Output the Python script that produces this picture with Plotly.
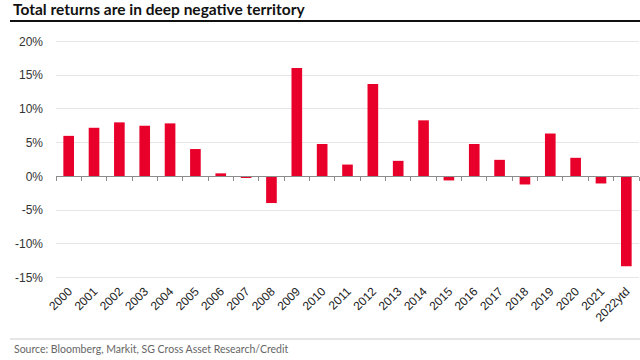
import plotly.graph_objects as go

years = ["2000", "2001", "2002", "2003", "2004", "2005", "2006", "2007", "2008", "2009",
         "2010", "2011", "2012", "2013", "2014", "2015", "2016", "2017", "2018", "2019",
         "2020", "2021", "2022ytd"]
returns_pct = [6.0, 7.2, 8.0, 7.5, 7.85, 4.05, 0.45, -0.2, -3.95, 16.05,
               4.8, 1.75, 13.7, 2.3, 8.3, -0.6, 4.8, 2.45, -1.2, 6.35,
               2.75, -1.05, -13.3]
y_ticks = [-15, -10, -5, 0, 5, 10, 15, 20]
y_ticklabels = [f"{v}%" for v in y_ticks]

title_text = "Total returns are in deep negative territory"
source_text = "Source: Bloomberg, Markit, SG Cross Asset Research/Credit"

RED = "#E8002B"
Y_RANGE = [-15.2, 20.2]
zero_pos = (0 - Y_RANGE[0]) / (Y_RANGE[1] - Y_RANGE[0])
n = len(years)

L, R, T, B = 56, 1, 40, 81
PW, PH = 640 - L - R, 360 - T - B

fig = go.Figure()
fig.add_trace(go.Bar(x=years, y=returns_pct, marker=dict(color=RED, line=dict(width=0)),
                     showlegend=False, hoverinfo="x+y"))
# invisible helper trace so the zero-line axis (with boundary ticks) is drawn
fig.add_trace(go.Scatter(x=[-0.5, n - 0.5], y=[0, 0], xaxis="x2", yaxis="y",
                         mode="lines", line=dict(width=0), showlegend=False,
                         hoverinfo="skip"))

fig.update_layout(
    width=640, height=360,
    margin=dict(l=L, r=R, t=T, b=B, autoexpand=False),
    paper_bgcolor="white", plot_bgcolor="white",
    bargap=0.58,
    font=dict(family="Liberation Sans, Arial, sans-serif", size=12, color="#333333"),
    xaxis=dict(type="category", categoryorder="array", categoryarray=years,
               range=[-0.5, n - 0.5], automargin=False,
               showgrid=False, showline=False, zeroline=False, ticks="",
               tickangle=-45, tickfont=dict(size=12, color="#222222"),
               ticklabelstandoff=2),
    xaxis2=dict(overlaying="x", anchor="free", position=zero_pos, side="bottom",
                range=[-0.5, n - 0.5], showgrid=False, zeroline=False, automargin=False,
                showline=True, linecolor="#8c8c8c", linewidth=1,
                tickmode="array", tickvals=[i - 0.5 for i in range(n + 1)],
                ticks="outside", ticklen=4, tickcolor="#8c8c8c", tickwidth=1,
                showticklabels=False, fixedrange=True),
    yaxis=dict(range=Y_RANGE, tickmode="array", tickvals=y_ticks, ticktext=y_ticklabels,
               showgrid=True, gridcolor="#e6e6e6", gridwidth=1, zeroline=False,
               showline=False, ticks="", ticklabelstandoff=12, automargin=False,
               tickfont=dict(size=12, color="#333333")),
    annotations=[
        dict(text=f"<b>{title_text}</b>", xref="paper", yref="paper",
             x=(11 - L) / PW, y=1 + (T - 9) / PH, xanchor="left", yanchor="middle",
             showarrow=False, font=dict(family="Lato, sans-serif", size=15.5, color="#111111")),
        dict(text=source_text, xref="paper", yref="paper",
             x=(12 - L) / PW, y=-(349 - (T + PH)) / PH, xanchor="left", yanchor="middle",
             showarrow=False, font=dict(family="Lato, sans-serif", size=10.5, color="#666666")),
    ],
    shapes=[
        dict(type="line", xref="paper", yref="paper",
             x0=(10 - L) / PW, x1=1 + R / PW, y0=1 + (T - 21) / PH, y1=1 + (T - 21) / PH,
             line=dict(color="#111111", width=2)),
        dict(type="line", xref="paper", yref="paper",
             x0=(10 - L) / PW, x1=1 + R / PW, y0=-(339 - (T + PH)) / PH, y1=-(339 - (T + PH)) / PH,
             line=dict(color="#cccccc", width=1)),
    ],
)

fig.write_html("out.html",
               config={"displayModeBar": False},
               post_script="document.body.style.margin='0';document.body.style.overflow='hidden';")
